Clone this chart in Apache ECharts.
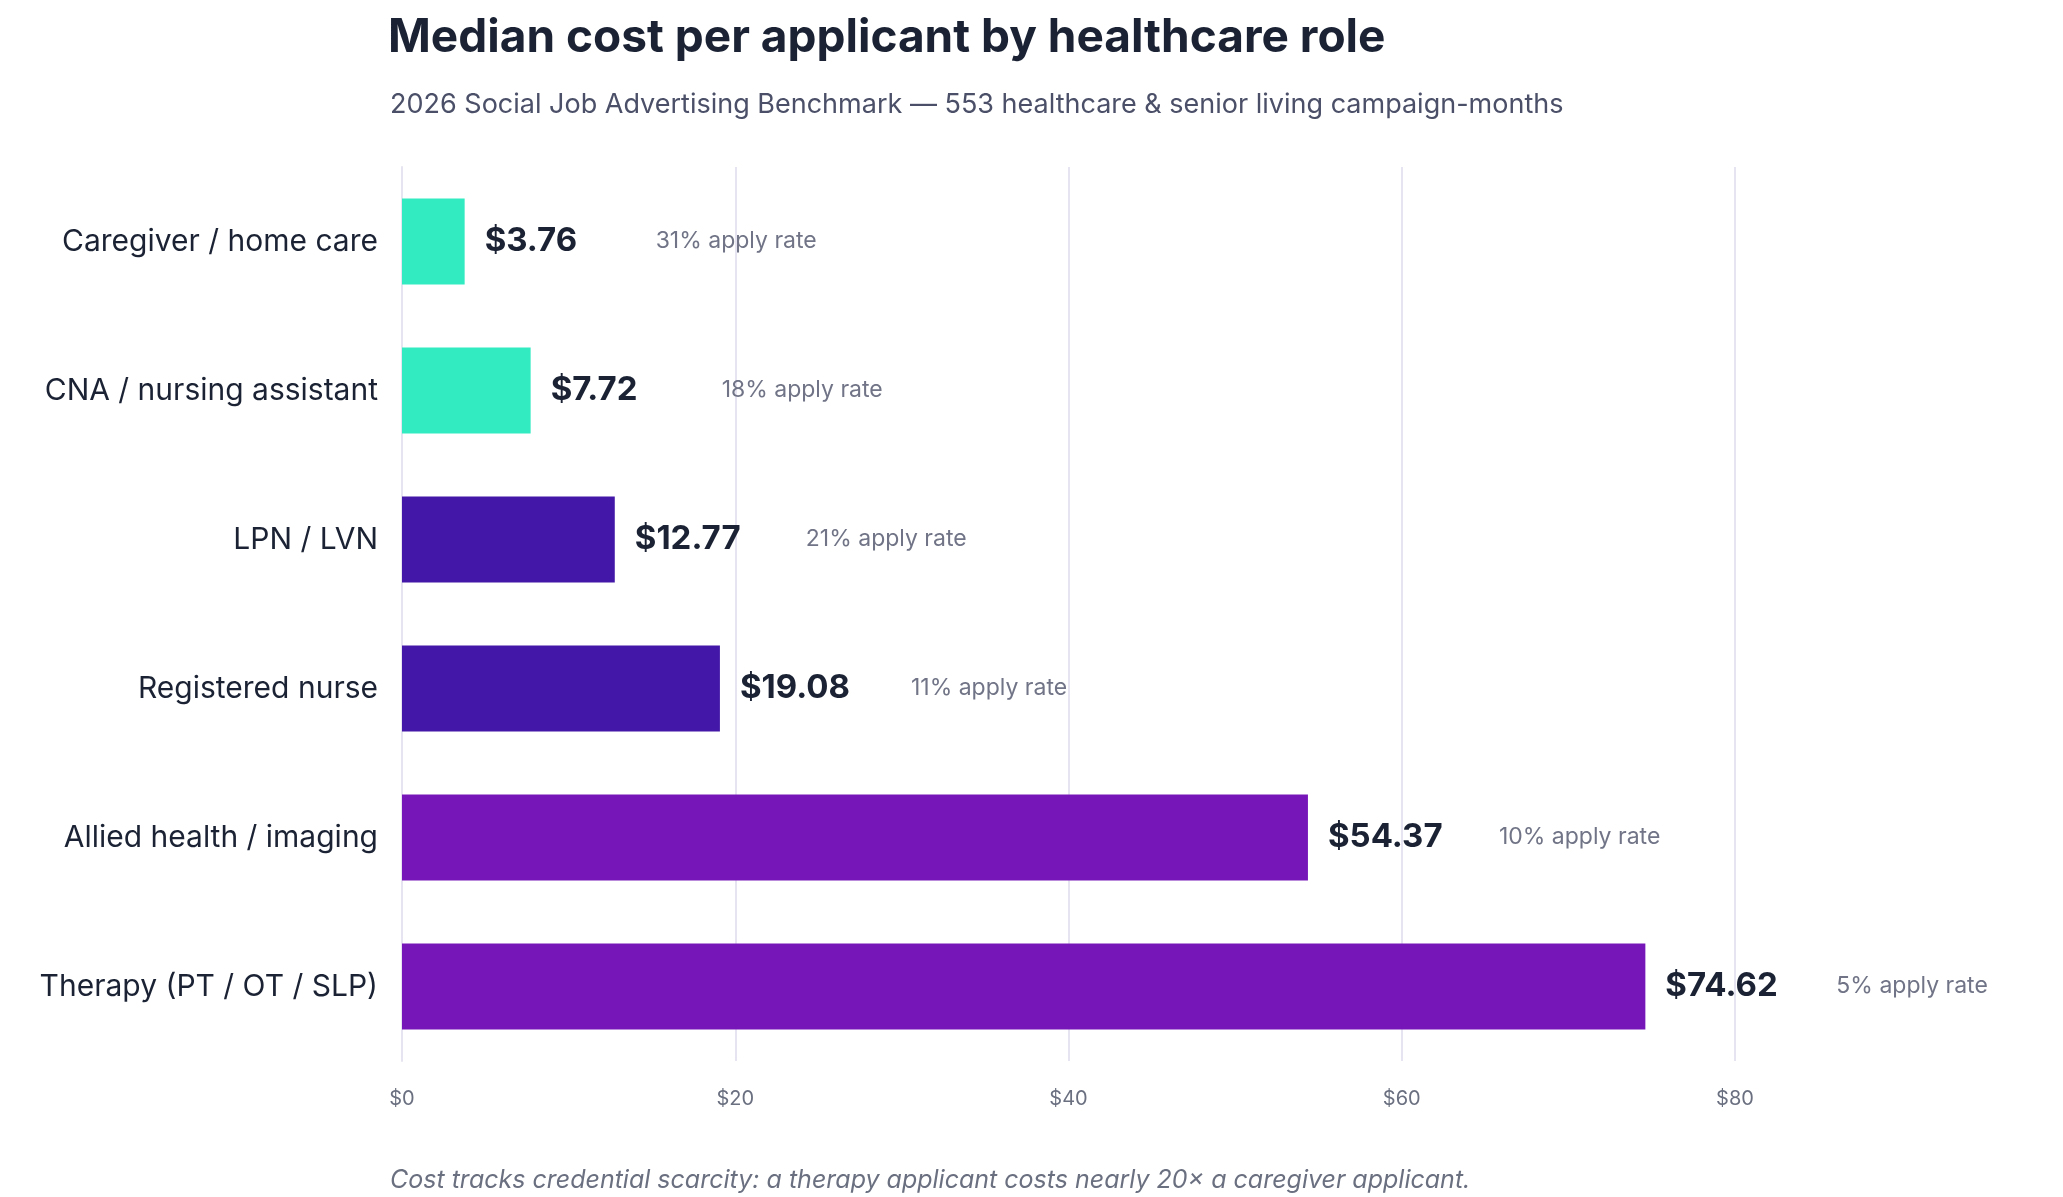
<!DOCTYPE html>
<html><head><meta charset="utf-8">
<script src="https://cdn.jsdelivr.net/npm/echarts@6/dist/echarts.min.js"></script>
<style>html,body{margin:0;padding:0;background:#fff}#c{width:2063px;height:1197px}</style>
</head><body><div id="c"></div>
<script>
var roles = ['Caregiver / home care', 'CNA / nursing assistant', 'LPN / LVN', 'Registered nurse', 'Allied health / imaging', 'Therapy (PT / OT / SLP)'];
var costs = [3.76, 7.72, 12.77, 19.08, 54.37, 74.62];
var applyRates = [31, 18, 21, 11, 10, 5];
var barColors = ['#33ebc1', '#33ebc1', '#4318a8', '#4318a8', '#7716b8', '#7716b8'];
var ticks = [0, 20, 40, 60, 80];

var chart = echarts.init(document.getElementById('c'));
var font = 'Inter, "Noto Sans", sans-serif';
chart.setOption({
  textStyle: {fontFamily: font},
  title: [
    {text: 'Median cost per applicant by healthcare role', left: 383, top: 10,
     textStyle: {fontSize: 46, fontWeight: 'bold', color: '#1a2233', fontFamily: font}},
    {text: '2026 Social Job Advertising Benchmark — 553 healthcare & senior living campaign-months', left: 385, top: 86,
     textStyle: {fontSize: 27, fontWeight: 'normal', color: '#4b5068', fontFamily: font}},
    {text: 'Cost tracks credential scarcity: a therapy applicant costs nearly 20× a caregiver applicant.', left: 385, top: 1163,
     textStyle: {fontSize: 25, fontWeight: 'normal', fontStyle: 'italic', color: '#6b7080', fontFamily: font}}
  ],
  grid: {left: 402, right: 2063 - 1735, top: 167, bottom: 1197 - 1061, containLabel: false},
  xAxis: {
    type: 'value', min: 0, max: 80, interval: 20,
    axisLine: {show: false}, axisTick: {show: false},
    splitLine: {lineStyle: {color: '#e6e4f0', width: 2}},
    axisLabel: {color: '#6b7080', fontSize: 20, margin: 28, formatter: function (v) { return '$' + v; }}
  },
  yAxis: {
    type: 'category', data: roles, inverse: true,
    axisLine: {lineStyle: {color: '#e6e4f0', width: 2}}, axisTick: {show: false},
    axisLabel: {color: '#1a2233', fontSize: 30, margin: 24}
  },
  series: [{
    type: 'bar', barWidth: 86,
    data: costs.map(function (v, i) {
      return {value: v, itemStyle: {color: barColors[i]}};
    }),
    label: {
      show: true, position: 'right', distance: 20,
      formatter: function (p) {
        return '{v|$' + p.value.toFixed(2) + '}{g|' + applyRates[p.dataIndex] + '% apply rate}';
      },
      rich: {
        v: {fontSize: 33, fontWeight: 'bold', color: '#1a2233', width: 171, fontFamily: font},
        g: {fontSize: 23, color: '#707486', fontFamily: font}
      }
    }
  }]
});
</script></body></html>
